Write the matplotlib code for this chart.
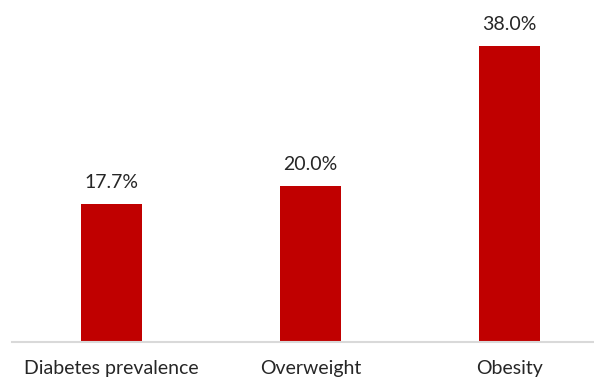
import matplotlib.pyplot as plt

categories = ["Diabetes prevalence", "Overweight", "Obesity"]
values = [17.7, 20.0, 38.0]
labels = ["17.7%", "20.0%", "38.0%"]

fig = plt.figure(figsize=(5.94, 3.79), dpi=100)
# axes left edge at x=12px, baseline at y=342px, runs past the right edge
ax = fig.add_axes([12 / 594, 37 / 379, 597 / 594, 342 / 379])

x = range(len(categories))
ax.bar(x, values, width=0.31, color="#c00000", zorder=2)

for i, v in enumerate(values):
    ax.text(i, v + 1.7, labels[i], ha="center", va="bottom",
            fontsize=14, family="Lato", color="#262626")

ax.set_xlim(-0.5, 2.5)
ax.set_ylim(0, 38 * 342 / 296)
ax.set_xticks(list(x))
ax.set_xticklabels(categories, fontsize=14, family="Lato", color="#262626")
ax.tick_params(axis="x", length=0, pad=13)
ax.set_yticks([])

for s in ["top", "right", "left"]:
    ax.spines[s].set_visible(False)
ax.spines["bottom"].set_color("#d9d9d9")
ax.spines["bottom"].set_linewidth(1.5)

fig.savefig("out.png", dpi=100)
